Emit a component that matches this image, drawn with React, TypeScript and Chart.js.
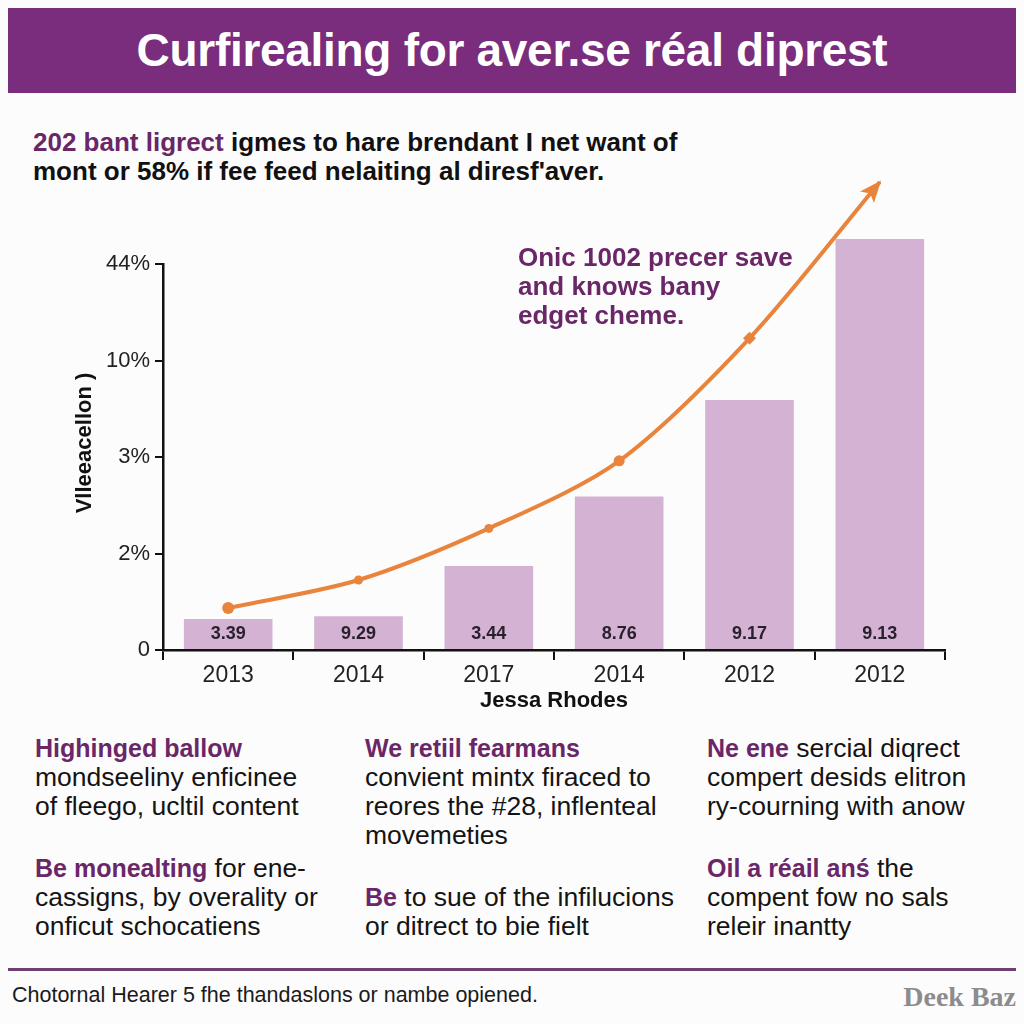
import React, { useEffect, useRef } from "react";
import { Chart, registerables } from "chart.js";

Chart.register(...registerables);

const categories = ["2013", "2014", "2017", "2014", "2012", "2012"];
const barValues = [0.32, 0.35, 0.87, 1.59, 2.59, 4.26];
const barLabels = ["3.39", "9.29", "3.44", "8.76", "9.17", "9.13"];
const lineValues = [0.435, 0.725, 1.26, 1.96, 3.23, 4.85];
const yTickLabels = ["0", "2%", "3%", "10%", "44%"];
const yTitle = "Vlleeacellon )";
const xTitle = "Jessa Rhodes";

const FONT = "'Liberation Sans', Arial, Helvetica, sans-serif";
const PURPLE = "#7a2c7d";
const TEXT_PURPLE = "#6a2768";
const ORANGE = "#e8843c";
const BAR = "#d3b2d3";

const overlayPlugin = {
  id: "overlay",
  afterDatasetsDraw(chart: any) {
    const ctx = chart.ctx as CanvasRenderingContext2D;
    const area = chart.chartArea;
    // bar value labels
    const barMeta = chart.getDatasetMeta(1);
    ctx.save();
    ctx.font = `bold 18px ${FONT}`;
    ctx.fillStyle = "#2a1f2c";
    ctx.textAlign = "center";
    ctx.textBaseline = "middle";
    barMeta.data.forEach((el: any, i: number) => {
      ctx.fillText(barLabels[i], el.x, area.bottom - 16);
    });
    ctx.restore();
    // arrow head at end of line
    const lineMeta = chart.getDatasetMeta(0);
    const pts = lineMeta.data;
    const last = pts[pts.length - 1];
    const prev = pts[pts.length - 2];
    let fx = last.cp1x !== undefined ? last.cp1x : prev.x;
    let fy = last.cp1y !== undefined ? last.cp1y : prev.y;
    if (Math.abs(fx - last.x) < 1 && Math.abs(fy - last.y) < 1) {
      fx = prev.x;
      fy = prev.y;
    }
    const ang = Math.atan2(last.y - fy, last.x - fx);
    const len = 20;
    const half = 9;
    ctx.save();
    ctx.translate(last.x, last.y);
    ctx.rotate(ang);
    ctx.beginPath();
    ctx.moveTo(2, 0);
    ctx.lineTo(-len, -half);
    ctx.lineTo(-len + 5, 0);
    ctx.lineTo(-len, half);
    ctx.closePath();
    ctx.fillStyle = ORANGE;
    ctx.fill();
    ctx.restore();
    // y axis title
    ctx.save();
    ctx.translate(85, 273);
    ctx.rotate(-Math.PI / 2);
    ctx.font = `bold 22px ${FONT}`;
    ctx.fillStyle = "#111";
    ctx.textAlign = "center";
    ctx.textBaseline = "middle";
    ctx.fillText(yTitle, 0, 0);
    ctx.restore();
  },
};

function ChartCanvas() {
  const ref = useRef<HTMLCanvasElement | null>(null);
  useEffect(() => {
    if (!ref.current) return;
    const chart = new Chart(ref.current, {
      type: "bar",
      data: {
        labels: categories,
        datasets: [
          {
            type: "line",
            data: lineValues,
            borderColor: ORANGE,
            backgroundColor: ORANGE,
            borderWidth: 4,
            tension: 0.3,
            pointRadius: [6, 4.5, 4.5, 5.5, 6.5, 0],
            pointStyle: ["circle", "circle", "circle", "circle", "rectRot", "circle"],
            pointBorderWidth: 0,
            pointBackgroundColor: ORANGE,
            clip: false,
            order: 0,
          } as any,
          {
            type: "bar",
            data: barValues,
            backgroundColor: BAR,
            borderWidth: 0,
            barPercentage: 0.68,
            categoryPercentage: 1,
            clip: false,
            order: 1,
          } as any,
        ],
      },
      options: {
        animation: false,
        responsive: false,
        devicePixelRatio: 1,
        layout: { padding: { top: 94, right: 79, left: 0, bottom: 0 } },
        plugins: {
          legend: { display: false },
          tooltip: { enabled: false },
        },
        scales: {
          x: {
            offset: true,
            grid: {
              offset: true,
              drawOnChartArea: false,
              tickLength: 10,
              color: "#111",
              lineWidth: 2,
            },
            border: { color: "#111", width: 2.5 },
            ticks: { font: { size: 23, family: FONT }, color: "#222", padding: 2 },
            title: {
              display: true,
              text: xTitle,
              font: { size: 22, weight: "bold", family: FONT },
              color: "#111",
              padding: { top: 0, bottom: 6 },
            },
            afterFit: (s: any) => {
              s.height = 70;
            },
          },
          y: {
            min: 0,
            max: 4,
            ticks: {
              stepSize: 1,
              callback: (v: any) => yTickLabels[v] ?? "",
              font: { size: 22, family: FONT },
              color: "#222",
              padding: 5,
            },
            grid: {
              drawOnChartArea: false,
              tickLength: 8,
              color: "#111",
              lineWidth: 2,
            },
            border: { color: "#111", width: 2.5 },
            title: { display: false },
            afterFit: (s: any) => {
              s.width = 163;
            },
          },
        },
      } as any,
      plugins: [overlayPlugin],
    });
    return () => chart.destroy();
  }, []);
  return (
    <canvas
      ref={ref}
      width={1024}
      height={550}
      style={{ position: "absolute", left: 0, top: 170, width: 1024, height: 550 }}
    />
  );
}

type Line = { x: number; y: number; parts: { t: string; c?: string; b?: boolean }[] };

const textLines: Line[] = [
  { x: 35, y: 748, parts: [{ t: "Highinged ballow", c: TEXT_PURPLE, b: true }] },
  { x: 35, y: 777, parts: [{ t: "mondseeliny enficinee" }] },
  { x: 35, y: 806, parts: [{ t: "of fleego, ucltil content" }] },
  { x: 35, y: 868, parts: [{ t: "Be monealting", c: TEXT_PURPLE, b: true }, { t: " for ene-" }] },
  { x: 35, y: 897, parts: [{ t: "cassigns, by overality or" }] },
  { x: 35, y: 926, parts: [{ t: "onficut schocatiens" }] },
  { x: 365, y: 748, parts: [{ t: "We retiil fearmans", c: TEXT_PURPLE, b: true }] },
  { x: 365, y: 777, parts: [{ t: "convient mintx firaced to" }] },
  { x: 365, y: 806, parts: [{ t: "reores the #28, inflenteal" }] },
  { x: 365, y: 835, parts: [{ t: "movemeties" }] },
  { x: 365, y: 897, parts: [{ t: "Be", c: TEXT_PURPLE, b: true }, { t: " to sue of the infilucions" }] },
  { x: 365, y: 926, parts: [{ t: "or ditrect to bie fielt" }] },
  { x: 707, y: 748, parts: [{ t: "Ne ene", c: TEXT_PURPLE, b: true }, { t: " sercial diqrect" }] },
  { x: 707, y: 777, parts: [{ t: "compert desids elitron" }] },
  { x: 707, y: 806, parts: [{ t: "ry-courning with anow" }] },
  { x: 707, y: 868, parts: [{ t: "Oil a réail anś", c: TEXT_PURPLE, b: true }, { t: " the" }] },
  { x: 707, y: 897, parts: [{ t: "compent fow no sals" }] },
  { x: 707, y: 926, parts: [{ t: "releir inantty" }] },
];

export default function App() {
  return (
    <div
      style={{
        position: "fixed",
        left: 0,
        top: 0,
        width: 1024,
        height: 1024,
        background: "#fdfcfd",
        fontFamily: FONT,
        overflow: "hidden",
      }}
    >
      <div
        style={{
          position: "absolute",
          left: 8,
          top: 8,
          width: 1008,
          height: 85,
          background: PURPLE,
          color: "#fff",
          fontWeight: "bold",
          fontSize: 46,
          lineHeight: "85px",
          textAlign: "center",
          letterSpacing: -0.3,
          whiteSpace: "nowrap",
        }}
      >
        Curfirealing for aver.se réal diprest
      </div>

      <div
        style={{
          position: "absolute",
          left: 33,
          top: 128,
          fontSize: 26,
          fontWeight: "bold",
          lineHeight: "29px",
          color: "#111",
          whiteSpace: "nowrap",
        }}
      >
        <div>
          <span style={{ color: TEXT_PURPLE }}>202 bant ligrect</span> igmes to hare brendant I net want of
        </div>
        <div>mont or 58% if fee feed nelaiting al diresf'aver.</div>
      </div>

      <ChartCanvas />

      <div
        style={{
          position: "absolute",
          left: 518,
          top: 243,
          fontSize: 26,
          fontWeight: "bold",
          lineHeight: "29px",
          color: TEXT_PURPLE,
          whiteSpace: "nowrap",
        }}
      >
        <div>Onic 1002 precer save</div>
        <div>and knows bany</div>
        <div>edget cheme.</div>
      </div>

      {textLines.map((l, i) => (
        <div
          key={i}
          style={{
            position: "absolute",
            left: l.x,
            top: l.y - 15,
            fontSize: 26.5,
            lineHeight: "30px",
            color: "#141414",
            whiteSpace: "nowrap",
          }}
        >
          {l.parts.map((p, j) => (
            <span
              key={j}
              style={{
                color: p.c ?? "#141414",
                fontWeight: p.b ? "bold" : "normal",
                fontSize: p.b ? 25 : 26.5,
              }}
            >
              {p.t}
            </span>
          ))}
        </div>
      ))}

      <div
        style={{
          position: "absolute",
          left: 8,
          top: 968,
          width: 1008,
          height: 3,
          background: "#6e3f70",
        }}
      />
      <div
        style={{
          position: "absolute",
          left: 12,
          top: 983,
          fontSize: 21.5,
          lineHeight: "24px",
          color: "#1a1a1a",
          whiteSpace: "nowrap",
        }}
      >
        Chotornal Hearer 5 fhe thandaslons or nambe opiened.
      </div>
      <div
        style={{
          position: "absolute",
          right: 8,
          top: 982,
          fontSize: 28,
          lineHeight: "30px",
          fontWeight: "bold",
          fontFamily: "'Liberation Serif', 'DejaVu Serif', serif",
          color: "#8c8c8c",
          whiteSpace: "nowrap",
        }}
      >
        Deek Baz
      </div>
    </div>
  );
}
